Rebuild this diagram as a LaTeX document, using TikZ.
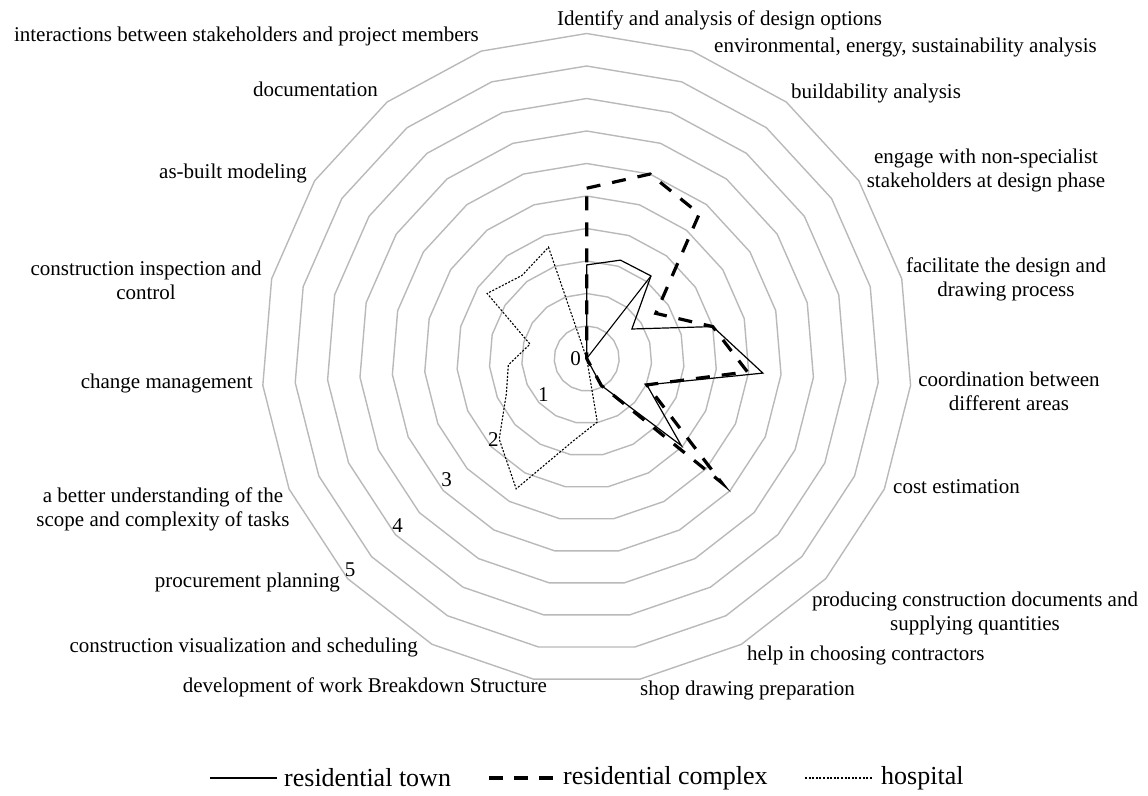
\documentclass[tikz,border=0pt]{standalone}
\usepackage{fontspec}
\setmainfont{Liberation Serif}
\usepackage{tikz}
\usetikzlibrary{calc}
\definecolor{ringgray}{RGB}{185,185,185}

\newcommand{\townvals}{1.44,1.60,1.61,0.83,2.00,2.72,1.01,1.98,0.47,0,0,0,0,0,0,0,0,0,0}
\newcommand{\complexvals}{2.62,3.00,2.82,1.27,2.00,2.48,1.01,2.82,0.47,0,0,0,0,0,0,0,0,0,0}
\newcommand{\hospvals}{0,0,1.61,0,0,0,0,0,0,0.99,1.29,2.28,1.83,1.35,1.21,0.90,1.83,1.62,1.81}

\begin{document}
\begin{tikzpicture}[x=1pt, y=-1pt,
    ring/.style={draw=ringgray, line width=1.4pt},
    town/.style={black, line width=1.2pt},
    complex/.style={black, line width=3.2pt, dash pattern=on 14pt off 12pt},
    hosp/.style={black, line width=1.1pt, dash pattern=on 2pt off 1.6pt},
    lbl/.style={font=\fontsize{21}{24}\selectfont, inner sep=0pt, align=center},
    tick/.style={font=\fontsize{21}{24}\selectfont, inner sep=0pt},
    legend/.style={font=\fontsize{26}{30}\selectfont, inner sep=0pt, anchor=west}]

    \useasboundingbox (0,0) rectangle (1148,795);
    \coordinate (c) at (586.7,358.5);

    \begin{scope}[shift={(c)}]
        \foreach \i in {1,...,10}
            \draw[ring] (-90:{\i*32.5}) \foreach \k in {1,...,18} { -- ({-90+\k*360/19}:{\i*32.5}) } -- cycle;

        \foreach \v [count=\k from 0] in \hospvals
            \coordinate (h\k) at ({-90+\k*360/19}:{\v*65});
        \foreach \v [count=\k from 0] in \townvals
            \coordinate (t\k) at ({-90+\k*360/19}:{\v*65});
        \foreach \v [count=\k from 0] in \complexvals
            \coordinate (r\k) at ({-90+\k*360/19}:{\v*65});

        \draw[hosp] (h0) \foreach \k in {1,...,18} { -- (h\k) } -- cycle;
        \draw[town] (t0) \foreach \k in {1,...,18} { -- (t\k) } -- cycle;
        \draw[complex] (r0) \foreach \k in {1,...,18} { -- (r\k) } -- cycle;
    \end{scope}

    \foreach \v/\px/\py in {0/575.7/358.3, 1/543.3/395, 2/493.3/439.3, 3/446.7/480, 4/397.7/525.7, 5/350/570}
        \node[tick] (tk\v) at (\px,\py) {\v};

    \node[lbl, anchor=west] (identify) at (557,20) {Identify and analysis of design options};
    \node[lbl, anchor=east] (environ) at (1097,47) {environmental, energy, sustainability analysis};
    \node[lbl, anchor=west] (buildab) at (791,93) {buildability analysis};
    \node[lbl] (engage) at (986,170) {engage with non-specialist\\stakeholders at design phase};
    \node[lbl] (facil) at (1006,279) {facilitate the design and\\drawing process};
    \node[lbl] (coord) at (1009,391) {coordination between\\different areas};
    \node[lbl, anchor=west] (cost) at (893,487) {cost estimation};
    \node[lbl] (produce) at (975,613) {producing construction documents and\\supplying quantities};
    \node[lbl, anchor=west] (contract) at (747,655) {help in choosing contractors};
    \node[lbl, anchor=west] (shopdraw) at (640,690) {shop drawing preparation};
    \node[lbl, anchor=east] (wbs) at (547,687) {development of work Breakdown Structure};
    \node[lbl, anchor=east] (visual) at (418,647) {construction visualization and scheduling};
    \node[lbl, anchor=east] (procure) at (340,582) {procurement planning};
    \node[lbl] (scope) at (163,509) {a better understanding of the\\scope and complexity of tasks};
    \node[lbl, anchor=east] (change) at (253,383) {change management};
    \node[lbl] (inspect) at (146,280) {construction inspection and\\control};
    \node[lbl, anchor=east] (asbuilt) at (307,173) {as-built modeling};
    \node[lbl, anchor=east] (docu) at (378,89) {documentation};
    \node[lbl, anchor=east] (interact) at (479,36) {interactions between stakeholders and project members};

    \coordinate (ta) at (210,778);
    \coordinate (tb) at (277,778);
    \coordinate (ra) at (489,778);
    \coordinate (rb) at (561,778);
    \coordinate (ha) at (805,778);
    \coordinate (hb) at (873,778);
    \draw[town] (ta) -- (tb);
    \draw[complex, dash pattern=on 14pt off 11pt] (ra) -- (rb);
    \draw[hosp] (ha) -- (hb);
    \node[legend] (ltown) at (284,778) {residential town};
    \node[legend] (lcomplex) at (563,778) {residential complex};
    \node[legend] (lhosp) at (881,778) {hospital};
\end{tikzpicture}
\end{document}
